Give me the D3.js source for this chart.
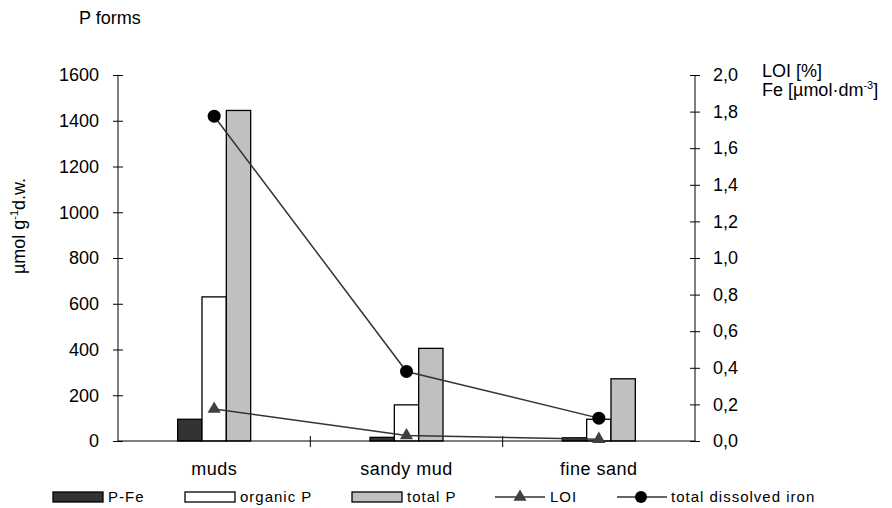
<!DOCTYPE html>
<html><head><meta charset="utf-8">
<script src="https://cdn.jsdelivr.net/npm/d3@7"></script>
<style>
body{margin:0;background:#fff;}
text{font-family:"Liberation Sans",Arial,sans-serif;fill:#000;}
</style></head>
<body>
<svg id="chart" width="892" height="508"></svg>
<script>
const categories = ["muds", "sandy mud", "fine sand"];
const seriesNames = ["P-Fe", "organic P", "total P"];
const pFe = [95, 16, 14];
const organicP = [630, 158, 95];
const totalP = [1445, 405, 272];
const loi = [0.175, 0.03, 0.01];
const dissolvedIron = [1.775, 0.38, 0.125];
const leftTicks = [0, 200, 400, 600, 800, 1000, 1200, 1400, 1600];
const rightTicks = [0, 0.2, 0.4, 0.6, 0.8, 1.0, 1.2, 1.4, 1.6, 1.8, 2.0];

const barColors = {"P-Fe": "#333333", "organic P": "#ffffff", "total P": "#c0c0c0"};
const barData = [pFe, organicP, totalP];

const svg = d3.select("#chart");
const L = 118, R = 695, T = 75, B = 441;

const x0 = d3.scaleBand().domain(categories).range([L, R]).padding(0);
const bw = x0.bandwidth();
const x1 = d3.scaleBand().domain(seriesNames).range([bw / 2 - 36.5, bw / 2 + 36.5]).padding(0);
const yL = d3.scaleLinear().domain([0, 1600]).range([B, T]);
const yR = d3.scaleLinear().domain([0, 2.0]).range([B, T]);

// bars
seriesNames.forEach((s, si) => {
  svg.append("g").selectAll("rect").data(categories).join("rect")
    .attr("x", c => x0(c) + x1(s))
    .attr("y", (c, i) => yL(barData[si][i]))
    .attr("width", x1.bandwidth())
    .attr("height", (c, i) => B - yL(barData[si][i]))
    .attr("fill", barColors[s])
    .attr("stroke", "#000").attr("stroke-width", 1.3);
});

// axes
const axL = d3.axisLeft(yL).tickValues(leftTicks).tickSize(5).tickPadding(14).tickFormat(d3.format("d"));
const gL = svg.append("g").attr("transform", `translate(${L},0)`).call(axL);
const axR = d3.axisRight(yR).tickValues(rightTicks).tickSize(5).tickPadding(13)
  .tickFormat(d => d3.format(".1f")(d).replace(".", ","));
const gR = svg.append("g").attr("transform", `translate(${R},0)`).call(axR);
[gL, gR].forEach(g => {
  g.select(".domain").remove();
  g.selectAll("text").style("font-size", "18px").attr("font-family", "Liberation Sans, Arial, sans-serif");
  g.selectAll("line").attr("stroke", "#000");
});
gL.selectAll(".tick line").attr("x1", -5).attr("x2", 5);
gR.selectAll(".tick line").attr("x1", -5).attr("x2", 5);
svg.append("line").attr("x1", L).attr("x2", L).attr("y1", T).attr("y2", B).attr("stroke", "#000");
svg.append("line").attr("x1", R).attr("x2", R).attr("y1", T).attr("y2", B).attr("stroke", "#000");

// x axis
svg.append("line").attr("x1", L).attr("x2", R).attr("y1", B).attr("y2", B).attr("stroke", "#000");
const boundaries = categories.slice(1).map(c => x0(c));
svg.append("g").selectAll("line").data(boundaries).join("line")
  .attr("x1", d => d).attr("x2", d => d).attr("y1", B - 5).attr("y2", B + 6).attr("stroke", "#000");
svg.append("g").selectAll("text").data(categories).join("text")
  .attr("x", c => x0(c) + bw / 2).attr("y", 475).attr("text-anchor", "middle")
  .style("font-size", "18px").style("letter-spacing", "0.5px").text(c => c);

// lines
const cx = c => x0(c) + bw / 2;
const lineGen = vals => d3.line().x((d, i) => cx(categories[i])).y(d => yR(d))(vals);
svg.append("path").attr("d", lineGen(loi)).attr("fill", "none").attr("stroke", "#333").attr("stroke-width", 1.5);
svg.append("path").attr("d", lineGen(dissolvedIron)).attr("fill", "none").attr("stroke", "#333").attr("stroke-width", 1.5);
const tri = d3.symbol().type(d3.symbolTriangle).size(75);
svg.append("g").selectAll("path").data(loi).join("path")
  .attr("d", tri).attr("fill", "#404040")
  .attr("transform", (d, i) => `translate(${cx(categories[i])},${yR(d)})`);
svg.append("g").selectAll("circle").data(dissolvedIron).join("circle")
  .attr("cx", (d, i) => cx(categories[i])).attr("cy", d => yR(d)).attr("r", 6.5).attr("fill", "#000");

// titles
svg.append("text").attr("x", 79).attr("y", 24).style("font-size", "18px").text("P forms");
svg.append("text").attr("transform", "translate(25,226) rotate(-90)").attr("text-anchor", "middle")
  .style("font-size", "18px").html('µmol g<tspan dy="-7" style="font-size:11px">-1</tspan><tspan dy="7">d.w.</tspan>');
svg.append("text").attr("x", 762).attr("y", 77).style("font-size", "18px").text("LOI [%]");
svg.append("text").attr("x", 762).attr("y", 96).style("font-size", "18px")
  .html('Fe [µmol·dm<tspan dy="-7" style="font-size:11px">-3</tspan><tspan dy="7">]</tspan>');

// legend
const lg = svg.append("g").style("font-size", "15px");
const barLegend = [{name: "P-Fe", x: 53}, {name: "organic P", x: 185}, {name: "total P", x: 352}];
barLegend.forEach(d => {
  lg.append("rect").attr("x", d.x).attr("y", 492).attr("width", 50).attr("height", 10)
    .attr("fill", barColors[d.name]).attr("stroke", "#000").attr("stroke-width", 1.3);
  lg.append("text").attr("x", d.x + 55).attr("y", 502).style("letter-spacing", "1px").text(d.name);
});
lg.append("line").attr("x1", 495).attr("x2", 545).attr("y1", 497).attr("y2", 497).attr("stroke", "#333").attr("stroke-width", 1.5);
lg.append("path").attr("d", tri).attr("fill", "#404040").attr("transform", "translate(520,497)");
lg.append("text").attr("x", 550).attr("y", 502).style("letter-spacing", "1px").text("LOI");
lg.append("line").attr("x1", 617).attr("x2", 667).attr("y1", 497).attr("y2", 497).attr("stroke", "#333").attr("stroke-width", 1.5);
lg.append("circle").attr("cx", 641).attr("cy", 497).attr("r", 6).attr("fill", "#000");
lg.append("text").attr("x", 671).attr("y", 502).style("letter-spacing", "1px").text("total dissolved iron");
</script>
</body></html>
